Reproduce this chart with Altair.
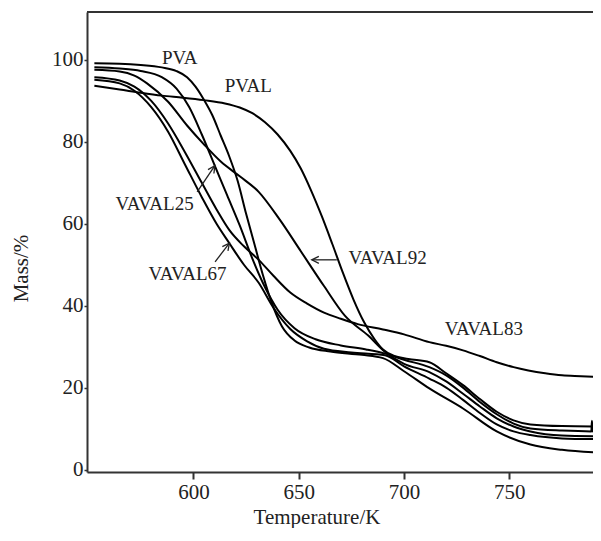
import altair as alt
import pandas as pd

# ---------------- data ----------------
series_names = ["PVA", "PVAL", "VAVAL25", "VAVAL67", "VAVAL92", "VAVAL83"]

pva_T = [553, 565, 575, 585, 592, 597, 601, 605, 609, 613, 617, 621, 625, 629, 633, 637, 642, 648, 655, 665, 680, 690, 700, 712, 728, 744, 760, 775, 793]
pva_M = [99.2, 99.1, 98.8, 98.2, 97.3, 95.8, 93.5, 90.3, 86.5, 81.5, 76.5, 70.5, 62.5, 55.0, 47.5, 41.0, 35.0, 31.5, 29.8, 28.8, 28.0, 27.2, 24.0, 19.8, 14.9, 9.3, 6.1, 4.8, 4.1]

pval_T = [553, 565, 575, 585, 595, 605, 615, 622, 628, 634, 640, 646, 651, 656, 661, 666, 671, 676, 681, 686, 690, 695, 702, 712, 720, 728, 736, 744, 752, 760, 775, 793]
pval_M = [93.7, 92.8, 92.0, 91.3, 90.8, 90.2, 89.4, 88.4, 87.0, 84.8, 81.8, 77.8, 73.5, 68.0, 61.8, 55.0, 48.0, 41.5, 36.0, 31.8, 29.3, 27.8, 27.0, 26.2, 23.5, 20.6, 17.2, 14.1, 12.0, 11.0, 10.6, 10.5]

v25_T = [553, 565, 575, 585, 592, 598, 604, 610, 616, 622, 628, 634, 640, 648, 658, 670, 682, 691, 700, 712, 720, 728, 736, 744, 752, 760, 775, 788.9, 789.2, 789.5, 793]
v25_M = [98.2, 97.9, 97.3, 95.8, 93.0, 88.5, 81.8, 74.4, 67.0, 59.6, 51.5, 44.5, 39.0, 34.5, 31.8, 30.3, 29.3, 28.3, 26.8, 25.0, 23.0, 20.0, 16.5, 13.5, 11.2, 10.0, 9.5, 9.3, 11.9, 9.3, 9.3]

v67_T = [553, 565, 572, 580, 588, 596, 604, 611, 617, 624, 631, 638, 646, 654, 662, 675, 691, 700, 712, 720, 728, 736, 744, 752, 760, 775, 793]
v67_M = [95.2, 94.3, 92.5, 88.5, 82.5, 74.5, 66.5, 60.0, 55.3, 50.0, 45.6, 39.5, 34.3, 31.3, 29.5, 28.6, 27.9, 25.2, 22.2, 20.0, 17.0, 13.8, 11.0, 9.3, 8.4, 7.6, 7.4]

v92_T = [553, 565, 572, 578, 588, 597, 605, 613, 622, 631, 641, 651, 662, 672, 683, 691, 700, 712, 720, 728, 736, 744, 752, 760, 775, 793]
v92_M = [97.6, 97.2, 96.2, 94.3, 89.8, 84.0, 79.4, 75.2, 71.6, 67.8, 61.0, 53.3, 44.8, 37.5, 32.7, 28.7, 25.8, 23.8, 21.5, 18.5, 15.4, 12.5, 10.5, 9.3, 8.3, 8.1]

v83_T = [553, 565, 572, 580, 588, 596, 604, 611, 617, 624, 631, 638, 646, 654, 662, 670, 678, 690, 700, 712, 720, 728, 736, 744, 752, 759, 767, 775, 784, 793]
v83_M = [95.8, 95.0, 93.5, 90.0, 84.5, 77.5, 70.0, 63.5, 58.5, 54.5, 51.2, 47.3, 43.2, 40.5, 38.3, 36.8, 35.5, 34.2, 33.0, 31.1, 30.2, 29.1, 27.7, 26.2, 25.0, 24.2, 23.5, 23.0, 22.8, 22.6]

all_T = [pva_T, pval_T, v25_T, v67_T, v92_T, v83_T]
all_M = [pva_M, pval_M, v25_M, v67_M, v92_M, v83_M]

# curve labels
label_text = ["PVA", "PVAL", "VAVAL25", "VAVAL67", "VAVAL92", "VAVAL83"]
label_T = [593.5, 626.1, 581.6, 597.2, 692.2, 737.9]
label_M = [100.6, 93.7, 64.9, 47.8, 51.6, 34.2]

# annotation arrows (tail -> tip)
arrow_T1 = [601.8, 610.3, 668.1]
arrow_M1 = [67.8, 50.7, 51.2]
arrow_T2 = [610.2, 617.1, 656.2]
arrow_M2 = [74.2, 55.3, 51.2]
arrow_angle = [303.6, 307.0, 180.0]

x_ticks = [600, 650, 700, 750]
y_ticks = [0, 20, 40, 60, 80, 100]

# ---------------- build ----------------
rows = []
for name, ts, ms in zip(series_names, all_T, all_M):
    for i, (t, m) in enumerate(zip(ts, ms)):
        rows.append({"series": name, "T": t, "M": m, "i": i})
df = pd.DataFrame(rows)

labels_df = pd.DataFrame({"text": label_text, "T": label_T, "M": label_M})
arrows_df = pd.DataFrame({"T": arrow_T1, "M": arrow_M1, "T2": arrow_T2, "M2": arrow_M2, "ang": arrow_angle})

W, H = 506, 460
FONT = "Liberation Serif"
INK = "#222222"

xscale = alt.Scale(domain=[549.5, 789.7], nice=False, zero=False)
yscale = alt.Scale(domain=[-0.61, 111.72], nice=False, zero=False)

x_axis = alt.Axis(
    values=x_ticks, title="Temperature/K", grid=False,
    domainColor="#333333", domainWidth=2, tickColor="#333333", tickWidth=2, tickSize=7,
    labelFont=FONT, labelFontSize=21, labelColor=INK, labelPadding=2,
    titleFont=FONT, titleFontSize=21, titleFontWeight="normal", titleColor=INK,
    titleX=229.5, titleY=51, titleAlign="center", titleBaseline="alphabetic",
)
y_axis = alt.Axis(
    values=y_ticks, title="Mass/%", grid=False,
    domainColor="#333333", domainWidth=2, tickColor="#333333", tickWidth=1.5, tickSize=3,
    labelFont=FONT, labelFontSize=21, labelColor=INK, labelPadding=1,
    titleFont=FONT, titleFontSize=21, titleFontWeight="normal", titleColor=INK,
    titleAngle=270, titleX=-66, titleY=256, titleAlign="center", titleBaseline="middle",
)

lines = alt.Chart(df).mark_line(color="black", strokeWidth=2, interpolate="monotone", clip=True).encode(
    x=alt.X("T:Q", scale=xscale, axis=x_axis),
    y=alt.Y("M:Q", scale=yscale, axis=y_axis),
    detail="series:N",
    order="i:Q",
)

frame_top = alt.Chart(pd.DataFrame({"a": [0]})).mark_rule(color="#333333", strokeWidth=2).encode(
    x=alt.value(0), x2=alt.value(W), y=alt.value(0)
)

labels = alt.Chart(labels_df).mark_text(
    font=FONT, fontSize=19, color=INK, align="center", baseline="middle"
).encode(x="T:Q", y="M:Q", text="text:N")

shafts = alt.Chart(arrows_df).mark_rule(color=INK, strokeWidth=1.3).encode(
    x="T:Q", y="M:Q", x2="T2:Q", y2="M2:Q"
)

heads = alt.Chart(arrows_df).mark_point(
    shape="M -1 -0.5 L 0 0 L -1 0.5", filled=False, size=200, color=INK, strokeWidth=1.3, opacity=1
).encode(
    x="T2:Q", y="M2:Q", angle=alt.Angle("ang:Q", scale=None)
)

chart = alt.layer(frame_top, lines, shafts, heads, labels).properties(
    width=W, height=H,
    autosize=alt.AutoSizeParams(type="none"),
    padding={"left": 79, "top": 4, "right": 0, "bottom": 56},
    background="white",
).configure_view(stroke=None)

chart.save("out.html", embed_options={"renderer": "svg", "actions": False})
